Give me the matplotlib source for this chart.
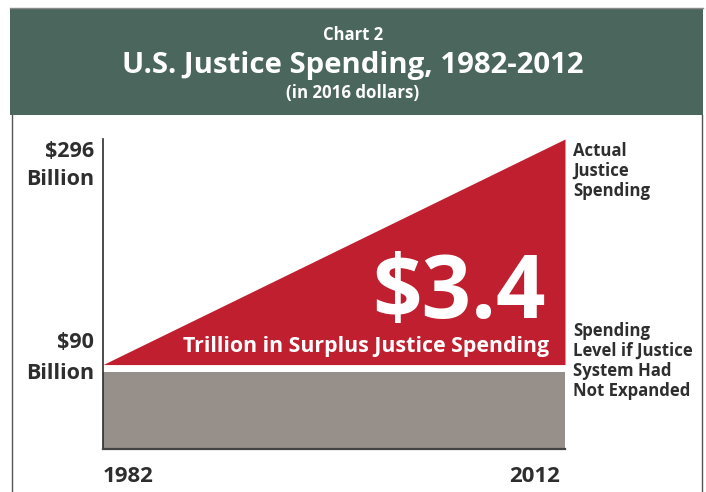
import matplotlib
matplotlib.use("Agg")
import matplotlib.pyplot as plt
from matplotlib.patches import Rectangle
from matplotlib.lines import Line2D
from matplotlib.transforms import ScaledTranslation

years = [1982, 2012]
actual_spending = [90, 296]
baseline_spending = [90, 90]
y_tick_values = [296, 90]
y_tick_labels = ["$296\nBillion", "$90\nBillion"]
x_tick_labels = ["1982", "2012"]

W, H = 706, 492
RED = "#c01f2f"
GRAY = "#968f8a"
GREEN = "#4a665d"
DARK = "#2e2e2e"
FONT = "Open Sans"

fig = plt.figure(figsize=(W / 100, H / 100), dpi=100)

def fx(px):
    return px / W

def fy(py):
    return 1 - py / H

def lines_text(x, baseline, step, text, ha="left", **kw):
    for i, line in enumerate(text.split("\n")):
        fig.text(fx(x), fy(baseline + i * step), line, ha=ha, va="baseline",
                 family=FONT, fontweight="bold", **kw)

# header and frame
fig.lines.append(Line2D([fx(10), fx(703)], [fy(8), fy(8)], transform=fig.transFigure, color="#8a8a8a", lw=1))
fig.patches.append(Rectangle((fx(10), fy(115)), fx(703) - fx(10), fy(9) - fy(115),
                             transform=fig.transFigure, facecolor=GREEN, edgecolor="none", zorder=0))
fig.lines.append(Line2D([fx(12), fx(12)], [fy(115), 0], transform=fig.transFigure, color="#555555", lw=1))
fig.lines.append(Line2D([fx(702), fx(702)], [fy(115), 0], transform=fig.transFigure, color="#555555", lw=1))

lines_text(W / 2, 39.5, 0, "Chart 2", ha="center", color="white", fontsize=12)
lines_text(W / 2, 73.5, 0, "U.S. Justice Spending, 1982-2012", ha="center", color="white", fontsize=21.2)
lines_text(W / 2, 98, 0, "(in 2016 dollars)", ha="center", color="white", fontsize=12.2)

ax = fig.add_axes([fx(103), fy(449), fx(565) - fx(103), fy(139) - fy(449)])
ymin = 12.9
ax.set_xlim(years[0], years[-1])
ax.set_ylim(ymin, actual_spending[-1])
gap = ScaledTranslation(0, -7.5 / 100, fig.dpi_scale_trans)
ax.fill_between(years, ymin - 30, baseline_spending, color=GRAY, lw=0, zorder=1,
                transform=ax.transData + gap)
ax.fill_between(years, baseline_spending, actual_spending, color=RED, lw=0, zorder=1)

for s in ["top", "right"]:
    ax.spines[s].set_visible(False)
ax.spines["left"].set_color(DARK)
ax.spines["bottom"].set_color("#444444")
ax.spines["left"].set_linewidth(1.2)
ax.spines["bottom"].set_linewidth(1.6)
ax.set_xticks([])
ax.set_yticks([])

# y labels (first-line baselines in pixels)
y_label_baselines = [157, 348]
y_label_steps = [28, 31]
for lab, b, st in zip(y_tick_labels, y_label_baselines, y_label_steps):
    lines_text(94, b, st, lab, ha="right", color=DARK, fontsize=15.5)

# x labels
lines_text(103, 482, 0, x_tick_labels[0], ha="left", color=DARK, fontsize=16)
lines_text(560, 482, 0, x_tick_labels[1], ha="right", color=DARK, fontsize=16)

# right labels
lines_text(573, 156, 20, "Actual\nJustice\nSpending", color=DARK, fontsize=12.1)
lines_text(573, 336, 20, "Spending\nLevel if Justice\nSystem Had\nNot Expanded", color=DARK, fontsize=12.1)

# annotations
lines_text(546, 318, 0, "$3.4", ha="right", color="white", fontsize=62.5)
lines_text(549, 352, 0, "Trillion in Surplus Justice Spending", ha="right", color="white", fontsize=15.4)

fig.savefig("out.png", dpi=100)
